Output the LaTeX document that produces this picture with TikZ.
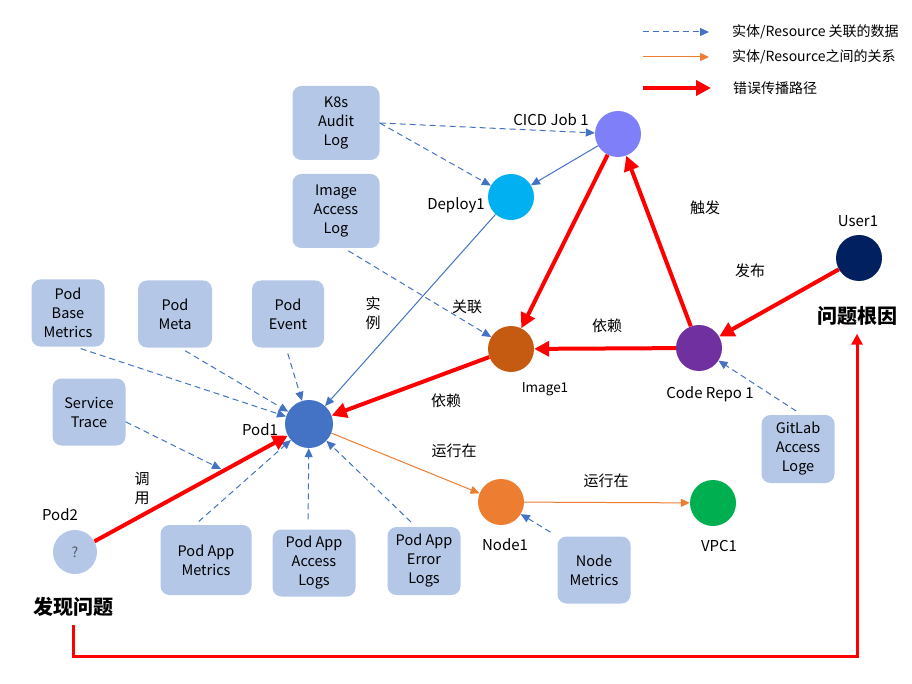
\documentclass[tikz,border=0pt]{standalone}
\usepackage{fontspec}
\setmainfont{Noto Sans CJK SC}
\usetikzlibrary{arrows.meta}
\definecolor{boxc}{HTML}{B4C7E7}
\definecolor{datc}{HTML}{4472C4}
\definecolor{relc}{HTML}{ED7D31}
\definecolor{errc}{HTML}{FF0000}
\definecolor{cicdc}{HTML}{7F7FFA}
\definecolor{deployc}{HTML}{00B0F0}
\definecolor{imagec}{HTML}{C55A11}
\definecolor{repoc}{HTML}{7030A0}
\definecolor{userc}{HTML}{002060}
\definecolor{podc}{HTML}{4472C4}
\definecolor{nodec}{HTML}{ED7D31}
\definecolor{vpcc}{HTML}{00B050}
\begin{document}
\begin{tikzpicture}[x=1pt,y=-1pt,
  ent/.style={circle, minimum size=46pt, inner sep=0pt},
  databox/.style={rounded corners=9pt, fill=boxc, align=center, inner sep=0pt,
     font=\fontsize{14.5}{19}\selectfont},
  dat/.style={draw=datc, line width=1pt, dash pattern=on 6pt off 4pt,
     -{Triangle[length=9pt,width=8pt]}},
  inst/.style={draw=datc, line width=1pt, -{Triangle[length=9pt,width=8pt]}},
  rel/.style={draw=relc, line width=1pt, -{Triangle[length=9pt,width=8pt]}},
  err/.style={draw=errc, line width=4pt, -{Triangle[length=15pt,width=15pt]}},
  errthin/.style={draw=errc, line width=3pt, -{Triangle[length=11pt,width=11pt]}},
  lbl/.style={font=\fontsize{15}{18}\selectfont, inner sep=0pt},
  leg/.style={font=\fontsize{14}{17}\selectfont, inner sep=0pt},
  big/.style={font=\fontsize{20}{23}\selectfont\bfseries, inner sep=0pt}
]
\useasboundingbox[fill=white] (0,0) rectangle (912,684);

% legend
\coordinate (l1a) at (643,32); \coordinate (l1b) at (709,32);
\coordinate (l2a) at (643,57); \coordinate (l2b) at (709,57);
\coordinate (l3a) at (643,88); \coordinate (l3b) at (711,88);
\draw[dat] (l1a) -- (l1b);
\draw[rel] (l2a) -- (l2b);
\draw[err] (l3a) -- (l3b);
\node[leg, anchor=west] (t1) at (732,32) {实体/Resource 关联的数据};
\node[leg, anchor=west] (t2) at (732,57) {实体/Resource之间的关系};
\node[leg, anchor=west] (t3) at (733,88) {错误传播路径};

% entities
\node[ent, fill=cicdc] (cicd) at (618,134) {};
\node[ent, fill=deployc] (deploy) at (511,197) {};
\node[ent, fill=imagec] (image) at (511,349) {};
\node[ent, fill=repoc] (repo) at (699,348) {};
\node[ent, fill=userc] (user) at (859,258) {};
\node[ent, fill=podc, minimum size=48pt] (pod1) at (309,424) {};
\node[ent, fill=boxc, minimum size=44pt, font=\fontsize{14}{17}\selectfont, text=black!65] (pod2) at (75,552) {?};
\node[ent, fill=nodec] (node1) at (501,502) {};
\node[ent, fill=vpcc] (vpc) at (713,503) {};

% entity labels
\node[lbl] (lcicd) at (551,120) {CICD Job 1};
\node[lbl] (ldeploy) at (456,205) {Deploy1};
\node[lbl, font=\fontsize{13.5}{16}\selectfont] (limage) at (545,389) {Image1};
\node[lbl] (lrepo) at (710,394) {Code Repo 1};
\node[lbl] (luser) at (858,221) {User1};
\node[lbl] (lpod1) at (260,430) {Pod1};
\node[lbl] (lpod2) at (60,515) {Pod2};
\node[lbl] (lnode) at (505,545) {Node1};
\node[lbl] (lvpc) at (719,546) {VPC1};
\node[big] (root) at (857,316) {问题根因};
\node[big] (found) at (73,607) {发现问题};

% edge labels
\node[lbl] (e1) at (705,208) {触发};
\node[lbl] (e2) at (750,271) {发布};
\node[lbl] (e3) at (607,326) {依赖};
\node[lbl] (e4) at (467,307) {关联};
\node[lbl, align=center, font=\fontsize{15}{19}\selectfont] (e5) at (373,313) {实\\例};
\node[lbl] (e6) at (446,401) {依赖};
\node[lbl] (e7) at (454,451) {运行在};
\node[lbl] (e8) at (606,481) {运行在};
\node[lbl, align=center, font=\fontsize{15}{19}\selectfont] (e9) at (142,488) {调\\用};

% data boxes
\node[databox, minimum width=87pt, minimum height=74pt] (k8s) at (336,123) {K8s\\Audit\\Log};
\node[databox, minimum width=87pt, minimum height=74pt] (iacc) at (336,211) {Image\\Access\\Log};
\node[databox, minimum width=73pt, minimum height=67pt] (pbm) at (68,313) {Pod\\Base\\Metrics};
\node[databox, minimum width=74pt, minimum height=67pt] (pmeta) at (175,314) {Pod\\Meta};
\node[databox, minimum width=72pt, minimum height=67pt] (pevent) at (288,314) {Pod\\Event};
\node[databox, minimum width=73pt, minimum height=67pt] (strace) at (89,412) {Service\\Trace};
\node[databox, minimum width=91pt, minimum height=70pt] (pam) at (206,560) {Pod App\\Metrics};
\node[databox, minimum width=83pt, minimum height=67pt] (paal) at (314,563) {Pod App\\Access\\Logs};
\node[databox, minimum width=73pt, minimum height=68pt] (pael) at (424,561) {Pod App\\Error\\Logs};
\node[databox, minimum width=73pt, minimum height=67pt] (nm) at (594,570) {Node\\Metrics};
\node[databox, minimum width=73pt, minimum height=68pt] (gitlab) at (798,449) {GitLab\\Access\\Loge};

% dashed data connectors
\coordinate (calltip) at (221,469);
\draw[dat] (k8s.east) -- (cicd);
\draw[dat] (k8s.east) -- (deploy);
\draw[dat, shorten <=5pt] ([xshift=8pt]iacc.south) -- (image);
\draw[dat, shorten <=6pt] ([xshift=7pt]pbm.south) -- (pod1);
\draw[dat, shorten <=6pt] ([xshift=5pt]pmeta.south) -- (pod1);
\draw[dat, shorten <=6pt] ([xshift=-2pt]pevent.south) -- (pod1);
\draw[dat] (strace.-15) -- (calltip);
\draw[dat, shorten <=5pt] ([xshift=-11pt]pam.north) -- (pod1);
\draw[dat, shorten <=10pt] ([xshift=-6pt]paal.north) -- (pod1);
\draw[dat, shorten <=7pt] ([xshift=-8pt]pael.north) -- (pod1);
\draw[dat, shorten <=8pt] (nm.north west) -- (node1);
\draw[dat, shorten <=7pt] ([xshift=4pt]gitlab.north) -- (repo);

% solid instance connectors
\draw[inst] (cicd) -- (deploy);
\draw[inst] (deploy) -- (pod1);

% orange relations
\draw[rel] (pod1) -- (node1);
\draw[rel] (node1) -- (vpc);

% red error propagation
\draw[err] (cicd) -- (image);
\draw[err] (repo) -- (cicd);
\draw[err] (repo) -- (image);
\draw[err] (user) -- (repo);
\draw[err] (image) -- (pod1);
\draw[err] (pod2) -- (pod1);
\coordinate (bottom) at (0,656);
\draw[errthin, shorten <=8pt, shorten >=8pt] (found.south) -- (found.south |- bottom) -| (root.south);
\end{tikzpicture}
\end{document}
